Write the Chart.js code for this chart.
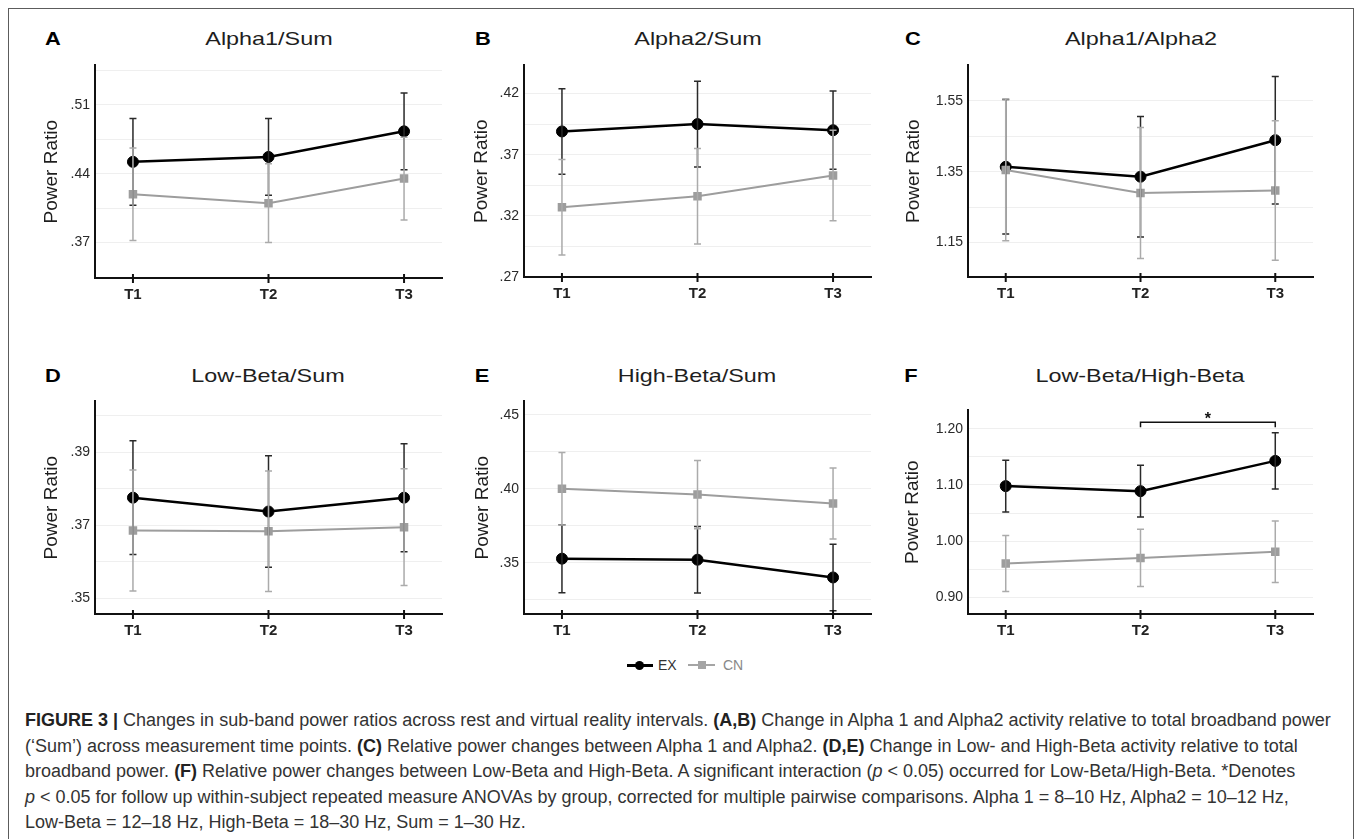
<!DOCTYPE html>
<html>
<head>
<meta charset="utf-8">
<title>Figure 3 - sub-band power ratios</title>
<script src="https://cdn.jsdelivr.net/npm/chart.js@4.4.1/dist/chart.umd.min.js"></script>
<style>
  body {
    margin: 0;
    width: 1358px;
    height: 839px;
    overflow: hidden;
    position: relative;
    background: #fff;
    font-family: "Liberation Sans", Arial, sans-serif;
  }
  .frame {
    position: absolute;
    left: 8px;
    top: 8px;
    width: 1344px;
    height: 900px;
    border: 1.5px solid #5c5c5c;
  }
  canvas { position: absolute; }
  .letter, .title {
    position: absolute;
    line-height: 1;
    white-space: nowrap;
  }
  .letter {
    font-weight: bold;
    font-size: 19px;
    color: #000;
    transform: translate(-50%, -50%) scaleX(1.15);
  }
  .title {
    font-size: 19px;
    color: #1e1e1e;
    transform: translate(-50%, -50%) scaleX(1.23);
  }
  .lg { position: absolute; }
  .lg-text {
    position: absolute;
    font-size: 14px;
    line-height: 1;
    transform: translateY(-50%);
  }
  .caption {
    position: absolute;
    left: 25px;
    top: 708px;
    font-size: 18px;
    line-height: 25.5px;
    color: #333;
    white-space: nowrap;
  }
  .caption b { color: #222; }
</style>
</head>
<body>
<div class="frame"></div>

<script>
const times = ['T1', 'T2', 'T3'];

// A - Alpha1/Sum
const alpha1SumEX = [0.452, 0.457, 0.483];
const alpha1SumEXci = [0.044, 0.039, 0.039];
const alpha1SumCN = [0.419, 0.410, 0.435];
const alpha1SumCNci = [0.047, 0.040, 0.042];
const alpha1SumGrid = [0.37, 0.405, 0.44, 0.475, 0.51, 0.545];
const alpha1SumTicks = ['.37', '', '.44', '', '.51', ''];

// B - Alpha2/Sum
const alpha2SumEX = [0.389, 0.395, 0.390];
const alpha2SumEXci = [0.035, 0.035, 0.032];
const alpha2SumCN = [0.327, 0.336, 0.353];
const alpha2SumCNci = [0.039, 0.039, 0.037];
const alpha2SumGrid = [0.27, 0.295, 0.32, 0.345, 0.37, 0.395, 0.42];
const alpha2SumTicks = ['.27', '', '.32', '', '.37', '', '.42'];

// C - Alpha1/Alpha2
const alphaRatioEX = [1.364, 1.336, 1.439];
const alphaRatioEXci = [0.19, 0.17, 0.18];
const alphaRatioCN = [1.355, 1.290, 1.297];
const alphaRatioCNci = [0.20, 0.185, 0.197];
const alphaRatioGrid = [1.15, 1.25, 1.35, 1.45, 1.55];
const alphaRatioTicks = ['1.15', '', '1.35', '', '1.55'];

// D - Low-Beta/Sum
const lowBetaSumEX = [0.3776, 0.3738, 0.3776];
const lowBetaSumEXci = [0.0156, 0.0153, 0.0148];
const lowBetaSumCN = [0.3686, 0.3684, 0.3695];
const lowBetaSumCNci = [0.0166, 0.0165, 0.016];
const lowBetaSumGrid = [0.35, 0.36, 0.37, 0.38, 0.39, 0.40];
const lowBetaSumTicks = ['.35', '', '.37', '', '.39', ''];

// E - High-Beta/Sum
const highBetaSumEX = [0.3527, 0.352, 0.340];
const highBetaSumEXci = [0.023, 0.0225, 0.0225];
const highBetaSumCN = [0.400, 0.396, 0.390];
const highBetaSumCNci = [0.0245, 0.023, 0.024];
const highBetaSumGrid = [0.325, 0.35, 0.375, 0.40, 0.425, 0.45];
const highBetaSumTicks = ['', '.35', '', '.40', '', '.45'];

// F - Low-Beta/High-Beta
const betaRatioEX = [1.098, 1.089, 1.143];
const betaRatioEXci = [0.046, 0.046, 0.05];
const betaRatioCN = [0.960, 0.970, 0.981];
const betaRatioCNci = [0.05, 0.051, 0.055];
const betaRatioGrid = [0.90, 0.95, 1.00, 1.05, 1.10, 1.15, 1.20];
const betaRatioTicks = ['0.90', '', '1.00', '', '1.10', '', '1.20'];
const betaRatioSig = [2, 3];     // T2 vs T3 (EX group)
const betaRatioSigLevel = 1.212;

// panel layout: plot area left/top/width/height, y range, title offset
const panels = [
  { id: 'A', title: 'Alpha1/Sum', left: 95, top: 62, w: 347, h: 216, min: 0.334, max: 0.55,
    ex: alpha1SumEX, exCi: alpha1SumEXci, cn: alpha1SumCN, cnCi: alpha1SumCNci,
    grid: alpha1SumGrid, ticks: alpha1SumTicks, titleOff: 43, tx: 269, ty: 38, lx: 53 },
  { id: 'B', title: 'Alpha2/Sum', left: 524, top: 62, w: 347, h: 215, min: 0.27, max: 0.443,
    ex: alpha2SumEX, exCi: alpha2SumEXci, cn: alpha2SumCN, cnCi: alpha2SumCNci,
    grid: alpha2SumGrid, ticks: alpha2SumTicks, titleOff: 42, tx: 698, ty: 38, lx: 483 },
  { id: 'C', title: 'Alpha1/Alpha2', left: 968, top: 62, w: 345, h: 215, min: 1.053, max: 1.65,
    ex: alphaRatioEX, exCi: alphaRatioEXci, cn: alphaRatioCN, cnCi: alphaRatioCNci,
    grid: alphaRatioGrid, ticks: alphaRatioTicks, titleOff: 54, tx: 1141, ty: 38, lx: 913 },
  { id: 'D', title: 'Low-Beta/Sum', left: 95, top: 398, w: 347, h: 216, min: 0.3457, max: 0.404,
    ex: lowBetaSumEX, exCi: lowBetaSumEXci, cn: lowBetaSumCN, cnCi: lowBetaSumCNci,
    grid: lowBetaSumGrid, ticks: lowBetaSumTicks, titleOff: 43, tx: 268, ty: 375, lx: 53 },
  { id: 'E', title: 'High-Beta/Sum', left: 524, top: 398, w: 347, h: 216, min: 0.3153, max: 0.459,
    ex: highBetaSumEX, exCi: highBetaSumEXci, cn: highBetaSumCN, cnCi: highBetaSumCNci,
    grid: highBetaSumGrid, ticks: highBetaSumTicks, titleOff: 41, tx: 697, ty: 375, lx: 482 },
  { id: 'F', title: 'Low-Beta/High-Beta', left: 968, top: 407, w: 345, h: 207, min: 0.870, max: 1.233,
    ex: betaRatioEX, exCi: betaRatioEXci, cn: betaRatioCN, cnCi: betaRatioCNci,
    grid: betaRatioGrid, ticks: betaRatioTicks, titleOff: 55, tx: 1140, ty: 375, lx: 911,
    sig: betaRatioSig, sigLevel: betaRatioSigLevel }
];

const Y_AXIS_W = 70;
const X_AXIS_H = 35;

// 95% CI whiskers
const errorBars = {
  id: 'errorBars',
  afterDatasetsDraw(chart) {
    const ctx = chart.ctx;
    const xs = chart.scales.x, ys = chart.scales.y;
    chart.data.datasets.forEach(ds => {
      ctx.save();
      ctx.strokeStyle = ds.errColor;
      ctx.lineWidth = 1.5;
      ds.data.forEach((p, i) => {
        const px = xs.getPixelForValue(p.x);
        const hi = ys.getPixelForValue(p.y + ds.errors[i]);
        const lo = ys.getPixelForValue(p.y - ds.errors[i]);
        ctx.beginPath();
        ctx.moveTo(px, hi); ctx.lineTo(px, lo);
        ctx.moveTo(px - 3.5, hi); ctx.lineTo(px + 3.5, hi);
        ctx.moveTo(px - 3.5, lo); ctx.lineTo(px + 3.5, lo);
        ctx.stroke();
      });
      ctx.restore();
    });
  }
};

// tick marks crossing the x axis
const crossTicks = {
  id: 'crossTicks',
  afterDraw(chart) {
    const ctx = chart.ctx;
    const xs = chart.scales.x;
    const yb = chart.chartArea.bottom;
    ctx.save();
    ctx.strokeStyle = '#111';
    ctx.lineWidth = 2;
    times.forEach((t, i) => {
      const px = xs.getPixelForValue(i + 1);
      ctx.beginPath();
      ctx.moveTo(px, yb - 4);
      ctx.lineTo(px, yb + 5);
      ctx.stroke();
    });
    ctx.restore();
  }
};

// significance bracket (panel F)
const sigBracket = {
  id: 'sigBracket',
  afterDraw(chart, args, opts) {
    if (!opts.pair) return;
    const ctx = chart.ctx;
    const xs = chart.scales.x, ys = chart.scales.y;
    const x1 = xs.getPixelForValue(opts.pair[0]);
    const x2 = xs.getPixelForValue(opts.pair[1]);
    const y = ys.getPixelForValue(opts.level);
    ctx.save();
    ctx.strokeStyle = '#111';
    ctx.lineWidth = 1.5;
    ctx.beginPath();
    ctx.moveTo(x1, y + 5); ctx.lineTo(x1, y); ctx.lineTo(x2, y); ctx.lineTo(x2, y + 5);
    ctx.stroke();
    ctx.fillStyle = '#111';
    ctx.font = 'bold 16px "Liberation Sans", Arial, sans-serif';
    ctx.textAlign = 'center';
    ctx.textBaseline = 'middle';
    ctx.fillText('*', (x1 + x2) / 2, y - 3);
    ctx.restore();
  }
};

function toPts(vals) {
  return vals.map((v, i) => ({ x: i + 1, y: v }));
}

function addText(cls, txt, x, y) {
  const d = document.createElement('div');
  d.className = cls;
  d.textContent = txt;
  d.style.left = x + 'px';
  d.style.top = y + 'px';
  document.body.appendChild(d);
}

panels.forEach(p => {
  addText('letter', p.id, p.lx, p.ty);
  addText('title', p.title, p.tx, p.ty);

  const cv = document.createElement('canvas');
  const cw = p.w + Y_AXIS_W + 10;
  const ch = p.h + 10 + X_AXIS_H;
  cv.width = cw;
  cv.height = ch;
  cv.style.left = (p.left - Y_AXIS_W) + 'px';
  cv.style.top = (p.top - 10) + 'px';
  document.body.appendChild(cv);

  new Chart(cv.getContext('2d'), {
    type: 'line',
    data: {
      datasets: [
        {
          label: 'EX',
          data: toPts(p.ex),
          errors: p.exCi,
          errColor: '#2a2a2a',
          borderColor: '#000',
          backgroundColor: '#000',
          borderWidth: 2.5,
          pointStyle: 'circle',
          pointRadius: 5.5,
          pointBorderWidth: 1,
          order: 1
        },
        {
          label: 'CN',
          data: toPts(p.cn),
          errors: p.cnCi,
          errColor: '#ababab',
          borderColor: '#9d9d9d',
          backgroundColor: '#9d9d9d',
          borderWidth: 2,
          pointStyle: 'rect',
          pointRadius: 6,
          pointBorderWidth: 0,
          order: 0
        }
      ]
    },
    options: {
      responsive: false,
      animation: false,
      devicePixelRatio: 1,
      layout: { padding: { top: 10, right: 10, left: 0, bottom: 0 } },
      plugins: {
        legend: { display: false },
        tooltip: { enabled: false },
        sigBracket: { pair: p.sig, level: p.sigLevel }
      },
      scales: {
        x: {
          type: 'linear',
          min: 0.72,
          max: 3.28,
          afterBuildTicks: a => { a.ticks = times.map((t, i) => ({ value: i + 1 })); },
          afterFit: s => { s.height = X_AXIS_H; },
          grid: { display: false, drawTicks: false },
          border: { color: '#111', width: 2 },
          ticks: {
            autoSkip: false,
            maxRotation: 0,
            padding: 8,
            color: '#222',
            font: { family: '"Liberation Sans", Arial, sans-serif', size: 15, weight: 'bold' },
            callback: v => times[Math.round(v) - 1]
          }
        },
        y: {
          min: p.min,
          max: p.max,
          afterBuildTicks: a => { a.ticks = p.grid.map(v => ({ value: v })); },
          afterFit: s => { s.width = Y_AXIS_W; },
          grid: { color: '#efefef', lineWidth: 1, drawTicks: false },
          border: { color: '#111', width: 2 },
          ticks: {
            autoSkip: false,
            padding: 5,
            color: '#2a2a2a',
            font: { family: '"Liberation Sans", Arial, sans-serif', size: 14 },
            callback: (v, i) => p.ticks[i]
          },
          title: {
            display: true,
            text: 'Power Ratio',
            color: '#1e1e1e',
            font: { family: '"Liberation Sans", Arial, sans-serif', size: 19 },
            padding: { top: Y_AXIS_W - p.titleOff - 11.4, bottom: 0 }
          }
        }
      }
    },
    plugins: [errorBars, crossTicks, sigBracket]
  });
});
</script>

<!-- legend -->
<div class="lg" style="left:627px; top:664px; width:26px; height:2.5px; background:#000;"></div>
<div class="lg" style="left:635px; top:660.5px; width:9px; height:9px; border-radius:50%; background:#000;"></div>
<div class="lg-text" style="left:658px; top:665px; color:#333;">EX</div>
<div class="lg" style="left:688px; top:664px; width:27px; height:2px; background:#a5a5a5;"></div>
<div class="lg" style="left:698px; top:661px; width:8px; height:8px; background:#a5a5a5;"></div>
<div class="lg-text" style="left:723px; top:665px; color:#888;">CN</div>

<div class="caption">
  <div><b>FIGURE 3 |</b> Changes in sub-band power ratios across rest and virtual reality intervals. <b>(A,B)</b> Change in Alpha 1 and Alpha2 activity relative to total broadband power</div>
  <div>(‘Sum’) across measurement time points. <b>(C)</b> Relative power changes between Alpha 1 and Alpha2. <b>(D,E)</b> Change in Low- and High-Beta activity relative to total</div>
  <div>broadband power. <b>(F)</b> Relative power changes between Low-Beta and High-Beta. A significant interaction (<i>p</i> &lt; 0.05) occurred for Low-Beta/High-Beta. *Denotes</div>
  <div><i>p</i> &lt; 0.05 for follow up within-subject repeated measure ANOVAs by group, corrected for multiple pairwise comparisons. Alpha 1 = 8–10 Hz, Alpha2 = 10–12 Hz,</div>
  <div>Low-Beta = 12–18 Hz, High-Beta = 18–30 Hz, Sum = 1–30 Hz.</div>
</div>
</body>
</html>
